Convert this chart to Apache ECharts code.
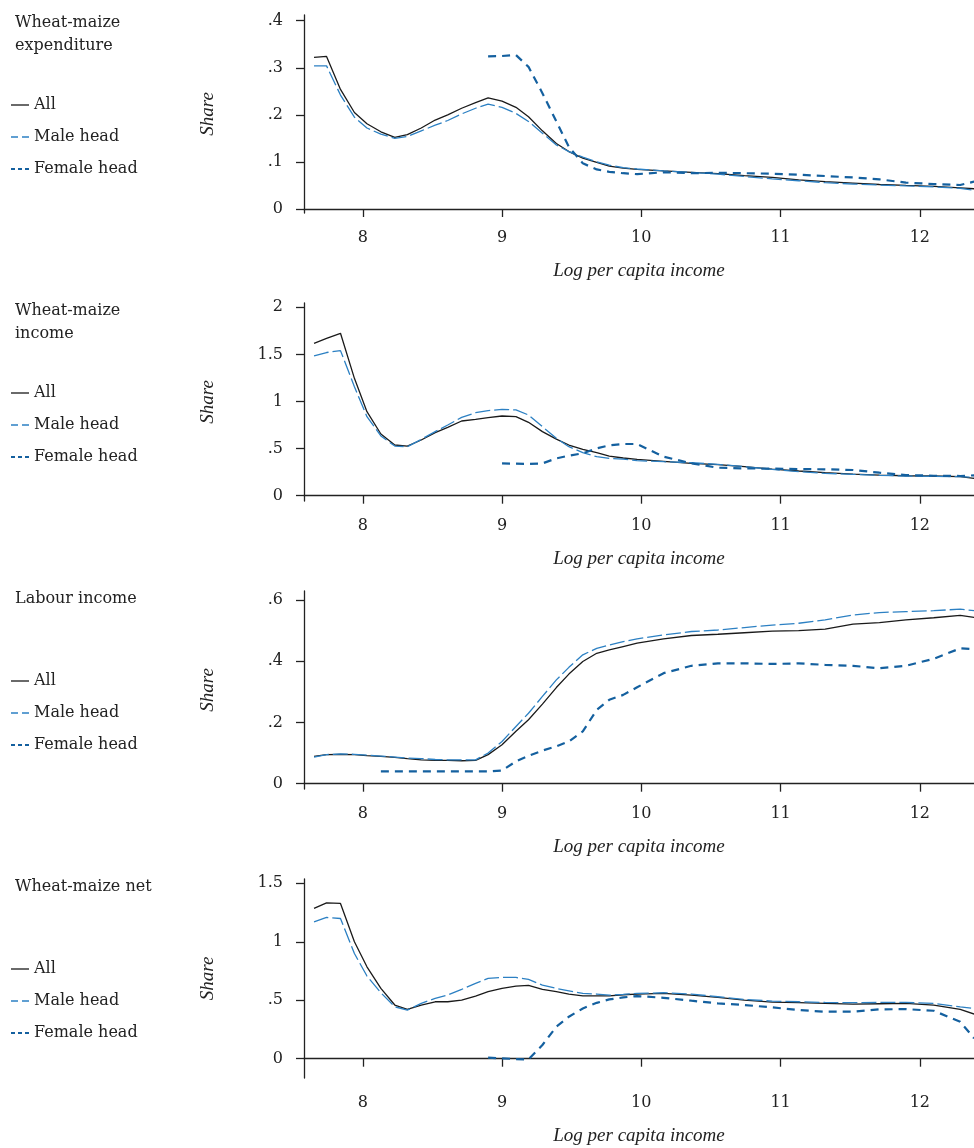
<!DOCTYPE html>
<html>
<head>
<meta charset="utf-8">
<script src="https://cdn.jsdelivr.net/npm/echarts@6/dist/echarts.min.js"></script>
<style>
  html, body { margin: 0; padding: 0; background: #fff; }
  #chart { width: 974px; height: 1148px; }
</style>
</head>
<body>
<div id="chart"></div>
<script>
// log per capita income grid shared by all curves
var xs = [7.65, 7.74, 7.84, 7.94, 8.03, 8.13, 8.23, 8.32, 8.42, 8.52, 8.61, 8.71, 8.81, 8.90, 9.00, 9.10, 9.19, 9.29, 9.39, 9.48,
  9.58, 9.68, 9.77, 9.87, 9.97, 10.16, 10.36, 10.55, 10.74, 10.94, 11.13, 11.32, 11.52, 11.71, 11.90, 12.10, 12.29, 12.39];

var xTicks = [8, 9, 10, 11, 12];

// Wheat-maize expenditure
var expAll = [.322, .324, .254, .205, .181, .164, .152, .158, .172, .189, .200, .214, .226, .236, .229, .216, .196, .166, .139, .122,
  .108, .099, .091, .087, .084, .081, .078, .075, .071, .067, .062, .058, .055, .052, .050, .048, .045, .043];
var expMale = [.304, .304, .242, .195, .172, .159, .150, .154, .166, .178, .188, .202, .214, .223, .216, .203, .186, .161, .136, .122,
  .110, .100, .093, .088, .085, .081, .078, .074, .069, .064, .060, .056, .053, .051, .049, .047, .044, .040];
var expFemale = [null, null, null, null, null, null, null, null, null, null, null, null, null,
  .324, .325, .327, .302, .246, .186, .132, .097, .084, .079, .076, .074, .078, .076, .077, .076, .075, .073, .070, .067, .063,
  .056, .053, .051, .058];
var expTicks = [0, 0.1, 0.2, 0.3, 0.4];

// Wheat-maize income
var incAll = [1.618, 1.67, 1.724, 1.246, .892, .655, .538, .527, .591, .669, .726, .793, .811, .828, .846, .839, .779, .680, .600, .538,
  .492, .457, .421, .400, .386, .365, .343, .329, .308, .283, .262, .244, .230, .219, .212, .209, .202, .184];
var incMale = [1.483, 1.52, 1.54, 1.157, .839, .634, .527, .520, .598, .680, .750, .832, .881, .903, .917, .910, .857, .733, .609, .520,
  .457, .414, .396, .389, .372, .361, .350, .333, .308, .280, .255, .237, .227, .216, .209, .205, .202, .195];
var incFemale = [null, null, null, null, null, null, null, null, null, null, null, null, null, null,
  .343, .340, .336, .343, .396, .425, .450, .503, .535, .549, .549, .414, .343, .297, .290, .287, .283, .280, .273, .244,
  .219, .212, .209, .216];
var incTicks = [0, 0.5, 1, 1.5, 2];

// Labour income
var labAll = [.089, .095, .096, .095, .092, .089, .086, .082, .078, .076, .076, .075, .076, .095, .127, .171, .209, .260, .314, .358,
  .399, .426, .437, .448, .459, .473, .484, .488, .493, .498, .500, .505, .521, .526, .535, .542, .550, .543];
var labMale = [.087, .095, .097, .096, .093, .090, .087, .084, .082, .079, .078, .078, .078, .100, .138, .187, .230, .285, .339, .380,
  .421, .442, .453, .464, .473, .486, .497, .502, .510, .518, .524, .535, .551, .559, .562, .565, .570, .565];
var labFemale = [null, null, null, null, null,
  .040, .040, .040, .040, .040, .040, .040, .040, .040, .043, .073, .091, .108, .122, .138, .171, .241, .274, .290, .315,
  .361, .385, .393, .393, .391, .393, .388, .385, .377, .385, .408, .442, .439];
var labTicks = [0, 0.2, 0.4, 0.6];

// Wheat-maize net
var netAll = [1.285, 1.333, 1.328, 1.0, .786, .601, .459, .422, .459, .487, .487, .501, .536, .573, .601, .621, .627, .593, .573, .553,
  .538, .538, .538, .547, .553, .558, .544, .524, .501, .484, .479, .473, .467, .470, .473, .459, .422, .382];
var netMale = [1.171, 1.208, 1.199, .90, .707, .564, .444, .416, .473, .516, .544, .593, .644, .687, .695, .695, .678, .630, .601, .581,
  .558, .553, .544, .550, .558, .564, .553, .530, .507, .493, .487, .481, .479, .481, .481, .473, .444, .430];
var netFemale = [null, null, null, null, null, null, null, null, null, null, null, null, null,
  .009, .003, -.003, -.006, .117, .274, .359, .430, .478, .507, .524, .536, .521, .496, .473, .459, .439, .416, .402, .402,
  .422, .424, .410, .316, .174];
var netTicks = [0, 0.5, 1, 1.5];

var seriesNames = ['All', 'Male head', 'Female head'];
var panelTitles = ['Wheat-maize\nexpenditure', 'Wheat-maize\nincome', 'Labour income', 'Wheat-maize net'];

var panels = [
  { title: panelTitles[0], data: [expAll, expMale, expFemale], ticks: expTicks, top: 15, height: 198, min: -0.0085, max: 0.4121 },
  { title: panelTitles[1], data: [incAll, incMale, incFemale], ticks: incTicks, top: 303, height: 198, min: -0.0563, max: 2.0456 },
  { title: panelTitles[2], data: [labAll, labMale, labFemale], ticks: labTicks, top: 591, height: 198, min: -0.0173, max: 0.6293 },
  { title: panelTitles[3], data: [netAll, netMale, netFemale], ticks: netTicks, top: 879, height: 199, min: -0.165, max: 1.537 }
];

var FONT = 'DejaVu Serif';
var NAME_FONT = 'Liberation Serif';
var AXIS_COL = '#222';
var lineStyles = [
  { color: '#1a1a1a', width: 1.3, type: 'solid' },
  { color: '#2c80c3', width: 1.3, type: [15, 4] },
  { color: '#14609f', width: 2.2, type: [8, 6] }
];
var legendStyles = [
  { type: 'solid', width: 1.3 },
  { type: [7, 4], width: 1.3 },
  { type: [4, 3], width: 2 }
];

function fmtShare(v) {
  if (v === 0) return '0';
  return String(v).replace(/^0\./, '.');
}

var chart = echarts.init(document.getElementById('chart'), null, { renderer: 'canvas' });

var option = {
  backgroundColor: '#fff',
  animation: false,
  title: [],
  legend: [],
  grid: [],
  xAxis: [],
  yAxis: [],
  series: []
};

panels.forEach(function (p, k) {
  option.title.push({
    text: p.title,
    left: 15,
    top: p.top - 4,
    padding: 0,
    textStyle: { fontFamily: FONT, fontSize: 16, fontWeight: 'normal', color: '#222', lineHeight: 23 }
  });
  option.legend.push({
    orient: 'vertical',
    left: 10,
    top: p.top + 80,
    padding: 0,
    itemWidth: 18,
    itemHeight: 14,
    itemGap: 12,
    selectedMode: false,
    textStyle: { fontFamily: FONT, fontSize: 16, color: '#222', lineHeight: 20 },
    data: seriesNames.map(function (n, i) {
      return { name: n, itemStyle: { opacity: 0 }, lineStyle: legendStyles[i] };
    })
  });
  option.grid.push({ left: 304, right: 0, top: p.top, height: p.height, containLabel: false });
  option.xAxis.push({
    type: 'value',
    gridIndex: k,
    min: 7.578,
    max: 12.389,
    name: 'Log per capita income',
    nameLocation: 'middle',
    nameGap: 48,
    nameTextStyle: { fontFamily: NAME_FONT, fontStyle: 'italic', fontSize: 19, color: '#222' },
    splitLine: { show: false },
    axisLine: { lineStyle: { color: AXIS_COL, width: 1.3 } },
    axisTick: { length: 8, lineStyle: { color: AXIS_COL, width: 1.3 }, customValues: xTicks },
    axisLabel: { fontFamily: FONT, fontSize: 16, color: '#222', margin: 17, customValues: xTicks }
  });
  option.yAxis.push({
    type: 'value',
    gridIndex: k,
    min: p.min,
    max: p.max,
    name: 'Share',
    nameLocation: 'middle',
    nameGap: 87,
    nameTextStyle: { fontFamily: NAME_FONT, fontStyle: 'italic', fontSize: 19, color: '#222' },
    splitLine: { show: false },
    axisLine: { show: true, lineStyle: { color: AXIS_COL, width: 1.3 } },
    axisTick: { show: true, length: 8, lineStyle: { color: AXIS_COL, width: 1.3 }, customValues: p.ticks },
    axisLabel: { fontFamily: FONT, fontSize: 16, color: '#222', margin: 21, customValues: p.ticks, formatter: fmtShare }
  });
  p.data.forEach(function (ys, i) {
    option.series.push({
      name: seriesNames[i],
      type: 'line',
      xAxisIndex: k,
      yAxisIndex: k,
      symbol: 'none',
      showSymbol: false,
      silent: true,
      z: 2 + i,
      lineStyle: lineStyles[i],
      itemStyle: { color: lineStyles[i].color },
      data: xs.map(function (x, j) { return [x, ys[j]]; })
    });
  });
});

chart.setOption(option);
</script>
</body>
</html>
